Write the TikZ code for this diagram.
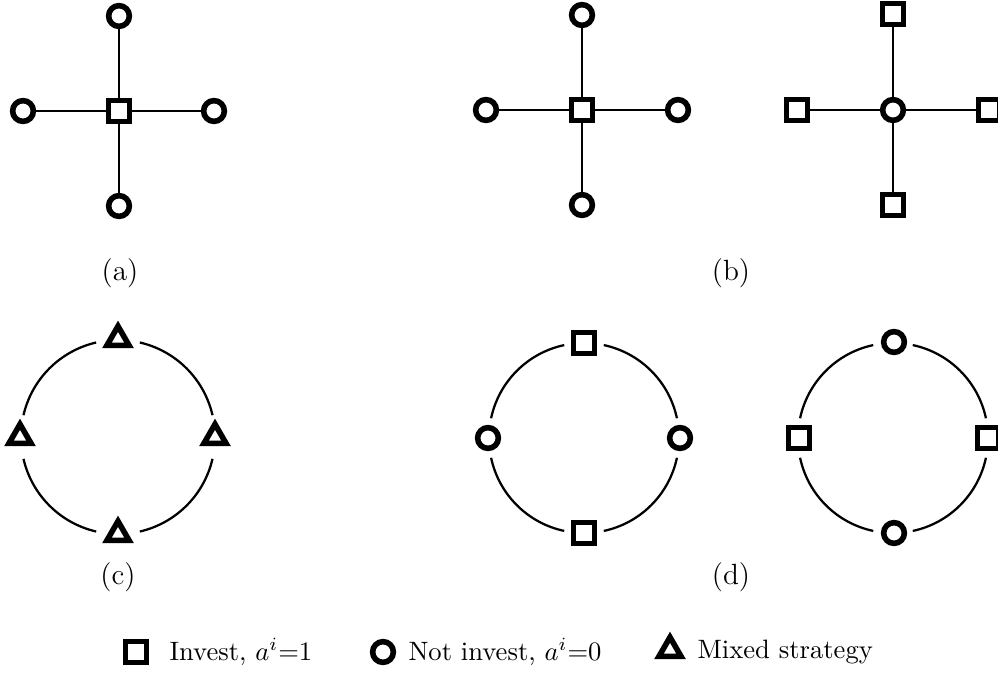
\documentclass[tikz,border=0pt]{standalone}
\usetikzlibrary{shapes.geometric}
\begin{document}
\begin{tikzpicture}[x=0.376pt,y=-0.376pt,
  sq/.style={draw,rectangle,line width=2.1pt,minimum size=8pt,inner sep=0pt,fill=white},
  ci/.style={draw,circle,line width=2.1pt,minimum size=7.8pt,inner sep=0pt,fill=white},
  tri/.style={draw,regular polygon,regular polygon sides=3,line width=2.1pt,minimum size=9.6pt,inner sep=0pt,fill=white},
  edge/.style={line width=0.9pt},
  ring/.style={line width=0.85pt},
  lab/.style={font=\fontsize{11}{13}\selectfont},
  leg/.style={font=\fontsize{10}{12}\selectfont,anchor=west,inner sep=0pt}]
\useasboundingbox (0,0) rectangle (998,680);
% (a)
\node[sq] (ac) at (119,111) {};
\node[ci] (at) at (119,16) {};
\node[ci] (ab) at (119,206) {};
\node[ci] (al) at (23,111) {};
\node[ci] (ar) at (214,111) {};
\foreach \n in {at,ab,al,ar} \draw[edge] (ac) -- (\n);
\node[lab] (la) at (120,273) {(a)};
% (b) left
\node[sq] (bc) at (582,110) {};
\node[ci] (bt) at (582,15) {};
\node[ci] (bb) at (582,205) {};
\node[ci] (bl) at (486,110) {};
\node[ci] (br) at (678,110) {};
\foreach \n in {bt,bb,bl,br} \draw[edge] (bc) -- (\n);
% (b) right
\node[ci] (cc) at (893,110) {};
\node[sq] (ct) at (893,14) {};
\node[sq] (cb) at (893,205) {};
\node[sq] (cl) at (797,110) {};
\node[sq] (cr) at (989,110) {};
\foreach \n in {ct,cb,cl,cr} \draw[edge] (cc) -- (\n);
\node[lab] (lb) at (731,273) {(b)};
% (c)
\coordinate (oc) at (118,437);
\foreach \a in {0,90,180,270}
  \draw[ring] ([shift={(\a+13:97)}]oc) arc[start angle=\a+13,end angle=\a+77,radius=97];
\node[tri] (dt) at (118,339) {};
\node[tri] (dr) at (215,437) {};
\node[tri] (db) at (118,534) {};
\node[tri] (dl) at (20,437) {};
\node[lab] (lc) at (118,577) {(c)};
% (d) left
\coordinate (od) at (584,438);
\foreach \a in {0,90,180,270}
  \draw[ring] ([shift={(\a+12:95)}]od) arc[start angle=\a+12,end angle=\a+78,radius=95];
\node[sq] (et) at (584,343) {};
\node[ci] (er) at (680,438) {};
\node[sq] (eb) at (584,533) {};
\node[ci] (el) at (488,438) {};
% (d) right
\coordinate (oe) at (893,438);
\foreach \a in {0,90,180,270}
  \draw[ring] ([shift={(\a+12:95)}]oe) arc[start angle=\a+12,end angle=\a+78,radius=95];
\node[ci] (ft) at (894,342) {};
\node[sq] (fr) at (988,438) {};
\node[ci] (fb) at (894,533) {};
\node[sq] (fl) at (799,438) {};
\node[lab] (ld) at (731,577) {(d)};
% legend
\node[sq] (g1) at (136,652) {};
\node[leg] (t1) at (169,652) {Invest, $a^i{=}1$};
\node[ci] (g2) at (383,652) {};
\node[leg] (t2) at (408,652) {Not invest, $a^i{=}0$};
\node[tri] (g3) at (670,650) {};
\node[leg] (t3) at (697,652) {Mixed strategy};
\end{tikzpicture}
\end{document}
